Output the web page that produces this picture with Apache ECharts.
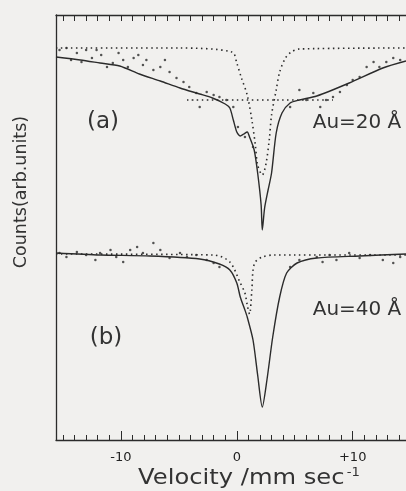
<!DOCTYPE html>
<html><head><meta charset="utf-8">
<script src="https://cdn.jsdelivr.net/npm/echarts@6/dist/echarts.min.js"></script>
<style>html,body{margin:0;padding:0;background:#f1f0ee;} #c{width:406px;height:491px;}</style>
</head><body><div id="c"></div>
<script>
// velocity (mm/s) vs counts (arbitrary units)
const minorTicks = [-15,-14,-13,-12,-11,-10,-9,-8,-7,-6,-5,-4,-3,-2,-1,0,1,2,3,4,5,6,7,8,9,10,11,12,13,14];
const majorTicks = [-10,0,10];
const tickLabels = [-10,0,10];

// (a) Au = 20 Å
const fitA = [[-15.6,383],[-13.5,380],[-11.8,377],[-10.1,374],[-8.4,366],[-6.6,359],[-4.9,352],[-3.2,346],[-2.1,342],[-1.0,336],[-0.6,332],[-0.3,320],[0.0,308],[0.3,304],[0.6,306],[0.9,308],[1.1,303],[1.5,290],[1.8,267],[2.1,235],[2.2,210],[2.4,232],[2.7,250],[3.0,267],[3.4,307],[3.9,327],[4.6,337],[5.4,340],[6.9,344],[9.7,357],[12.6,372],[14.6,379]];
const compA1 = [[-15.6,392],[-5,392],[-0.4,388],[0.0,377],[0.4,362],[0.9,345],[1.3,320],[1.6,295],[1.8,275],[2.2,265],[2.5,275],[2.8,300],[3.0,325],[3.4,350],[3.7,368],[4.2,382],[4.7,388],[5.4,391],[14.6,392]];
const compA2 = [[-4.3,340],[8.3,340]];
const dataA = [[-15.3,390],[-14.7,392],[-14.3,380],[-13.8,387],[-13.4,378],[-13.0,390],[-12.5,382],[-12.1,390],[-11.7,385],[-11.2,373],[-10.7,377],[-10.2,387],[-9.8,380],[-9.4,373],[-8.9,382],[-8.5,385],[-8.1,375],[-7.8,380],[-7.2,370],[-6.6,373],[-6.2,380],[-5.8,368],[-5.2,362],[-4.6,358],[-4.1,353],[-3.5,347],[-3.2,333],[-2.6,348],[-2.0,345],[-1.5,343],[-0.9,340],[-0.3,333],[0.1,313],[0.7,303],[1.4,293],[4.6,333],[5.4,350],[6.0,340],[6.6,347],[7.2,333],[7.7,340],[8.3,343],[8.9,348],[9.5,355],[10.0,360],[10.6,363],[11.2,373],[11.8,378],[12.3,373],[12.9,378],[13.5,382],[14.1,380]];

// (b) Au = 40 Å
const fitB = [[-15.6,187],[-11.8,185],[-7.5,184],[-3.2,181],[-1.5,176],[-0.6,170],[0.0,157],[0.3,143],[0.7,130],[0.9,123],[1.4,100],[1.8,65],[2.2,33],[2.6,60],[3.1,103],[3.7,143],[4.3,167],[5.2,177],[6.9,182],[10.6,184],[14.6,186]];
const compB = [[-15.6,186],[-2,185],[-0.6,178],[0.3,157],[0.7,147],[0.9,135],[1.1,126],[1.3,150],[1.4,170],[1.6,178],[2.2,183],[3.2,185],[14.6,185]];
const dataB = [[-15.3,187],[-14.7,183],[-13.8,188],[-13.0,185],[-12.2,180],[-11.8,187],[-10.9,190],[-10.4,183],[-9.8,178],[-9.2,190],[-8.6,193],[-8.1,187],[-7.2,197],[-6.6,190],[-5.8,182],[-4.9,187],[-4.3,183],[-3.5,185],[-2.6,180],[-2.0,177],[-1.5,173],[4.6,173],[5.4,180],[6.9,183],[7.4,178],[8.0,185],[8.6,180],[9.7,187],[10.6,182],[11.5,185],[12.6,180],[13.5,177],[14.1,183]];

const ink = '#2b2b2b';
const FF = '"DejaVu Sans"';
const chart = echarts.init(document.getElementById('c'), null, {renderer:'canvas'});
const xBase = {type:'value', min:-15.6, max:14.6, splitLine:{show:false}};
const fit = d => ({type:'line', data:d, symbol:'none', smooth:0.25, lineStyle:{color:ink, width:1.4}, z:3});
const comp = d => ({type:'line', data:d, symbol:'none', smooth:0.3, lineStyle:{color:ink, width:1.6, type:[1.5,3.5]}, z:2});
const pts = d => ({type:'scatter', data:d, symbol:'circle', symbolSize:2.5, itemStyle:{color:ink}, z:2});
chart.setOption({
  backgroundColor:'#f1f0ee',
  animation:false,
  grid:{left:56, right:0, top:15, bottom:51},
  xAxis:[
    Object.assign({}, xBase, {position:'bottom', axisLine:{onZero:false, lineStyle:{color:ink,width:1.3}},
      axisTick:{inside:true, length:5, customValues:minorTicks, lineStyle:{color:ink}},
      axisLabel:{customValues:tickLabels, margin:11, color:'#222', fontSize:13, fontFamily:'DejaVu Sans',
        formatter:v => v>0 ? '+'+v : String(v)}}),
    Object.assign({}, xBase, {position:'bottom', axisLine:{show:false, onZero:false},
      axisTick:{inside:true, length:9, customValues:majorTicks, lineStyle:{color:ink}}, axisLabel:{show:false}}),
    Object.assign({}, xBase, {position:'top', axisLine:{onZero:false, lineStyle:{color:ink,width:1.3}},
      axisTick:{inside:true, length:6, customValues:minorTicks, lineStyle:{color:ink}}, axisLabel:{show:false}})
  ],
  yAxis:{type:'value', min:0, max:425, axisLine:{show:true, onZero:false, lineStyle:{color:ink,width:1.3}}, axisTick:{show:false}, axisLabel:{show:false}, splitLine:{show:false}},
  series:[fit(fitA), comp(compA1), comp(compA2), pts(dataA), fit(fitB), comp(compB), pts(dataB)],
  graphic:[
    {type:'text', x:21, y:192, rotation:Math.PI/2, style:{text:'Counts(arb.units)', font:'17.5px '+FF, fill:'#333', align:'center', verticalAlign:'middle'}},
    {type:'text', x:103, y:122, style:{text:'(a)', font:'23px '+FF, fill:'#333', align:'center', verticalAlign:'middle'}},
    {type:'text', x:357, y:123, style:{text:'Au=20 Å', font:'20px '+FF, fill:'#333', align:'center', verticalAlign:'middle'}},
    {type:'text', x:106, y:338, style:{text:'(b)', font:'23px '+FF, fill:'#333', align:'center', verticalAlign:'middle'}},
    {type:'text', x:357, y:310, style:{text:'Au=40 Å', font:'20px '+FF, fill:'#333', align:'center', verticalAlign:'middle'}},
    {type:'text', x:249, y:478, scaleX:1.1, originX:0, style:{rich:{n:{font:'22px '+FF, fill:'#333'}, s:{font:'12px '+FF, fill:'#333', verticalAlign:'top', padding:[0,0,10,2]}}, text:'{n|Velocity /mm sec}{s|-1}', align:'center', verticalAlign:'middle'}}
  ]
});
</script></body></html>
